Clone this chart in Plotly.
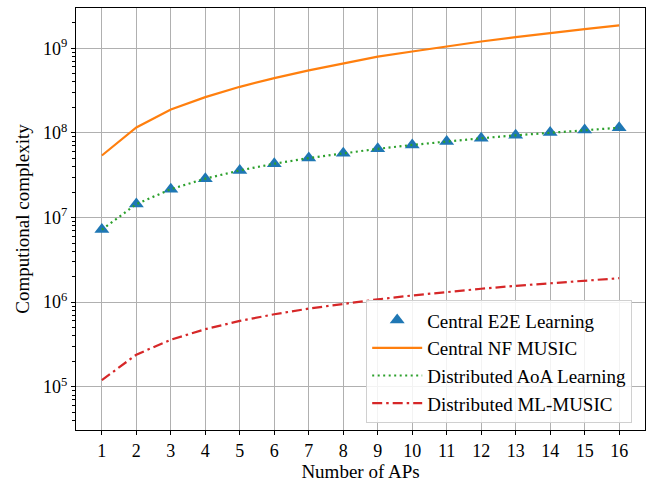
import plotly.graph_objects as go

aps = list(range(1, 17))
central_e2e = [7.2e6, 1.44e7, 2.16e7, 2.88e7, 3.6e7, 4.32e7, 5.04e7, 5.76e7,
               6.48e7, 7.2e7, 7.92e7, 8.64e7, 9.36e7, 1.008e8, 1.08e8, 1.15e8]
central_nf_music = [5.4e7, 1.16e8, 1.89e8, 2.64e8, 3.5e8, 4.44e8, 5.47e8, 6.62e8,
                    7.97e8, 9.15e8, 1.05e9, 1.2e9, 1.35e9, 1.52e9, 1.68e9, 1.86e9]
distributed_aoa = [7.2e6, 1.44e7, 2.16e7, 2.88e7, 3.6e7, 4.32e7, 5.04e7, 5.76e7,
                   6.48e7, 7.2e7, 7.92e7, 8.64e7, 9.36e7, 1.008e8, 1.08e8, 1.15e8]
distributed_ml_music = [1.2e5, 2.4e5, 3.6e5, 4.8e5, 6.0e5, 7.2e5, 8.4e5, 9.6e5,
                        1.08e6, 1.2e6, 1.32e6, 1.44e6, 1.56e6, 1.68e6, 1.8e6, 1.92e6]

y_major = [1e5, 1e6, 1e7, 1e8, 1e9]
y_major_text = ["10<sup>5</sup>", "10<sup>6</sup>", "10<sup>7</sup>", "10<sup>8</sup>", "10<sup>9</sup>"]
y_minor = [m * 10 ** e for e in range(4, 10) for m in range(2, 10)]

font = "Liberation Serif, Times New Roman, serif"

fig = go.Figure()
fig.add_trace(go.Scatter(x=aps, y=central_e2e, mode="markers", name="Central E2E Learning",
                         marker=dict(symbol="triangle-up", size=13, color="#1f77b4")))
fig.add_trace(go.Scatter(x=aps, y=central_nf_music, mode="lines", name="Central NF MUSIC",
                         line=dict(color="#ff7f0e", width=2.2)))
fig.add_trace(go.Scatter(x=aps, y=distributed_aoa, mode="lines", name="Distributed AoA Learning",
                         line=dict(color="#2ca02c", width=2.2, dash="2px,3.5px")))
fig.add_trace(go.Scatter(x=aps, y=distributed_ml_music, mode="lines", name="Distributed ML-MUSIC",
                         line=dict(color="#d62728", width=2.2, dash="10px,4px,2.5px,4px")))

fig.update_layout(
    width=650, height=483,
    margin=dict(l=76, r=5, t=8, b=53, autoexpand=False),
    paper_bgcolor="white", plot_bgcolor="white",
    font=dict(family=font, size=18, color="black"),
    showlegend=True,
    legend=dict(x=0.51, y=0.016, xanchor="left", yanchor="bottom",
                bgcolor="rgba(255,255,255,0.85)", bordercolor="#d0d0d0", borderwidth=1,
                font=dict(family=font, size=19), tracegroupgap=0, itemwidth=50),
)
fig.update_xaxes(
    range=[0.25, 16.75], tickvals=aps, ticks="outside", ticklen=4, tickcolor="black",
    tickfont=dict(family=font, size=18), automargin=False,
    showgrid=True, gridcolor="#b0b0b0", gridwidth=1,
    showline=True, linecolor="black", linewidth=1.2, mirror=True, zeroline=False,
    title=dict(text="Number of APs", font=dict(family=font, size=19), standoff=3),
)
fig.update_yaxes(
    type="log", range=[4.49, 9.475], tickmode="array", tickvals=y_major, ticktext=y_major_text,
    ticks="outside", ticklen=4, tickcolor="black",
    tickfont=dict(family=font, size=18), automargin=False,
    showgrid=True, gridcolor="#b0b0b0", gridwidth=1,
    minor=dict(tickmode="array", tickvals=y_minor, ticks="outside", ticklen=2.5, tickcolor="black", showgrid=False),
    showline=True, linecolor="black", linewidth=1.2, mirror=True, zeroline=False,
    title=dict(text="Computional complexity", font=dict(family=font, size=19), standoff=8),
)

fig.write_html("out.html", config={"displayModeBar": False},
               post_script="document.body.style.margin='0';")
